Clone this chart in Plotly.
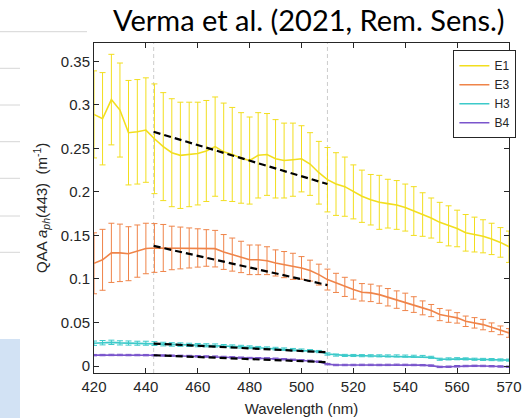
import plotly.graph_objects as go

# ---------------- data ----------------
wavelength = [420.0, 423.3, 426.7, 430.0, 433.3, 436.7, 440.0, 443.3, 446.7, 450.0,
              453.3, 456.7, 460.0, 463.3, 466.7, 470.0, 473.3, 476.7, 480.0, 483.3,
              486.7, 490.0, 493.3, 496.7, 500.0, 503.3, 506.7, 510.0, 513.3, 516.7,
              520.0, 523.3, 526.7, 530.0, 533.3, 536.7, 540.0, 543.3, 546.7, 550.0,
              553.3, 556.7, 560.0, 563.3, 566.7, 570.0, 573.3, 576.7, 580.0]

e1_mean = [0.289, 0.284, 0.306, 0.294, 0.268, 0.269, 0.271, 0.261, 0.252, 0.245,
           0.242, 0.243, 0.244, 0.247, 0.252, 0.246, 0.243, 0.239, 0.236, 0.242,
           0.243, 0.238, 0.236, 0.237, 0.238, 0.232, 0.222, 0.214, 0.209, 0.206,
           0.200, 0.195, 0.191, 0.188, 0.1865, 0.185, 0.182, 0.178, 0.174, 0.170,
           0.165, 0.161, 0.158, 0.153, 0.151, 0.149, 0.146, 0.142, 0.137]
e1_err = [0.050, 0.053, 0.052, 0.054, 0.060, 0.060, 0.060, 0.063, 0.062, 0.062,
          0.061, 0.060, 0.059, 0.058, 0.057, 0.056, 0.054, 0.052, 0.050, 0.049,
          0.047, 0.045, 0.043, 0.042, 0.038, 0.036, 0.036, 0.037, 0.036, 0.034,
          0.031, 0.030, 0.029, 0.031, 0.028, 0.028, 0.027, 0.028, 0.025, 0.023,
          0.023, 0.023, 0.021, 0.021, 0.020, 0.019, 0.018, 0.017, 0.018]

e3_mean = [0.118, 0.122, 0.130, 0.130, 0.129, 0.132, 0.135, 0.1356, 0.1356, 0.1356,
           0.1356, 0.1356, 0.1356, 0.1356, 0.1348, 0.131, 0.128, 0.1253, 0.122, 0.122,
           0.121, 0.1184, 0.1165, 0.1145, 0.1127, 0.1096, 0.105, 0.0993, 0.0955, 0.0909,
           0.0878, 0.0847, 0.084, 0.082, 0.079, 0.0763, 0.0737, 0.0706, 0.0668, 0.0637,
           0.0591, 0.0572, 0.0553, 0.0514, 0.0496, 0.0476, 0.0445, 0.041, 0.038]
e3_err = [0.035, 0.035, 0.034, 0.033, 0.031, 0.030, 0.029, 0.028, 0.027, 0.025,
          0.024, 0.023, 0.022, 0.021, 0.021, 0.020, 0.019, 0.018, 0.017, 0.017,
          0.016, 0.015, 0.015, 0.015, 0.013, 0.012, 0.012, 0.012, 0.011, 0.011,
          0.011, 0.010, 0.010, 0.010, 0.010, 0.010, 0.010, 0.009, 0.008, 0.007,
          0.007, 0.007, 0.006, 0.006, 0.006, 0.006, 0.005, 0.005, 0.005]

h3_mean = [0.0262, 0.0268, 0.0272, 0.0266, 0.0264, 0.0262, 0.0262, 0.0258, 0.0252, 0.0248,
           0.0246, 0.0243, 0.0240, 0.0238, 0.0236, 0.0230, 0.0226, 0.0222, 0.0216, 0.0210,
           0.0205, 0.0200, 0.0194, 0.0188, 0.0182, 0.0176, 0.0166, 0.0138, 0.0126, 0.0122,
           0.0121, 0.0119, 0.0118, 0.0117, 0.0116, 0.0116, 0.0114, 0.0112, 0.0110, 0.0100,
           0.0078, 0.0082, 0.0084, 0.0082, 0.0078, 0.0076, 0.0074, 0.0070, 0.0068]
h3_err = [0.0025, 0.0025, 0.0025, 0.0024, 0.0024, 0.0023, 0.0023, 0.0022, 0.0021, 0.0020,
          0.0020, 0.0019, 0.0019, 0.0018, 0.0018, 0.0017, 0.0017, 0.0016, 0.0016, 0.0015,
          0.0015, 0.0015, 0.0014, 0.0014, 0.0014, 0.0013, 0.0013, 0.0013, 0.0012, 0.0012,
          0.0012, 0.0012, 0.0012, 0.0012, 0.0012, 0.0012, 0.0012, 0.0012, 0.0012, 0.0012,
          0.0012, 0.0012, 0.0012, 0.0012, 0.0012, 0.0012, 0.0012, 0.0012, 0.0012]

b4_mean = [0.0125, 0.0126, 0.0127, 0.0127, 0.0126, 0.0126, 0.0125, 0.0124, 0.0121, 0.0119,
           0.0117, 0.0115, 0.0112, 0.0110, 0.0108, 0.0104, 0.0100, 0.0096, 0.0092, 0.0090,
           0.0088, 0.0084, 0.0078, 0.0072, 0.0066, 0.0060, 0.0050, 0.0022, 0.0012, 0.0012,
           0.0012, 0.0013, 0.0013, 0.0012, 0.0013, 0.0014, 0.0013, 0.0012, 0.0010, 0.0005,
           -0.0010, -0.0008, -0.0002, 0.0000, 0.0002, 0.0001, -0.0002, -0.0005, -0.0008]
b4_err = [0.0008] * 49

fit_wavelength = [443, 510]
e1_fit = [0.269, 0.209]
e3_fit = [0.138, 0.093]
h3_fit = [0.0258, 0.0158]
b4_fit = [0.0124, 0.0044]

band_edges = [443, 510]

x_tickvals = [420, 440, 460, 480, 500, 520, 540, 560, 580]
x_ticktext = ["420", "440", "460", "480", "500", "520", "540", "560", "570"]
y_tickvals = [0, 0.05, 0.1, 0.15, 0.2, 0.25, 0.3, 0.35]
y_ticktext = ["0", "0.05", "0.1", "0.15", "0.2", "0.25", "0.3", "0.35"]

series = [
    ("E1", e1_mean, e1_err, "#F2DE1E"),
    ("E3", e3_mean, e3_err, "#EF8449"),
    ("H3", h3_mean, h3_err, "#3CCACA"),
    ("B4", b4_mean, b4_err, "#7A55CC"),
]
fits = [e1_fit, e3_fit, h3_fit, b4_fit]

AX = "#262626"
FONT = "Liberation Sans, Arial, sans-serif"

fig = go.Figure()

for name, mean, err, col in series:
    fig.add_trace(go.Scatter(
        x=wavelength, y=mean, name=name, mode="lines",
        line=dict(color=col, width=1.6),
        error_y=dict(type="data", array=err, visible=True, color=col,
                     thickness=1, width=3),
    ))

for fit in fits:
    fig.add_trace(go.Scatter(
        x=fit_wavelength, y=fit, mode="lines", showlegend=False,
        line=dict(color="black", width=2.2, dash="7px,4px"),
    ))

shapes = []
for b in band_edges:
    shapes.append(dict(type="line", xref="x", yref="paper", x0=b, x1=b, y0=0, y1=1,
                       line=dict(color="#cccccc", width=1, dash="4px,3px"), layer="below"))

# slide background decorations (outside the axes)
W, H = 526, 418
ml, mr, mt, mb = 94, 17, 43, 45
pw, ph = W - ml - mr, H - mt - mb
def px(xp):
    return (xp - ml) / pw
def py(yp):
    return (H - mb - yp) / ph

shapes.append(dict(type="line", xref="paper", yref="paper", x0=px(0), x1=px(87),
                   y0=py(31.7), y1=py(31.7), line=dict(color="#d6d6d6", width=1)))
for yy in [68.3, 105, 141.7, 178.3, 216, 252.3]:
    shapes.append(dict(type="line", xref="paper", yref="paper", x0=px(0), x1=px(20),
                       y0=py(yy), y1=py(yy), line=dict(color="#d6d6d6", width=1)))
shapes.append(dict(type="rect", xref="paper", yref="paper", x0=px(0), x1=px(20),
                   y0=py(418), y1=py(339), line=dict(width=0), fillcolor="#d2e2f4"))

fig.update_layout(
    width=W, height=H,
    margin=dict(l=ml, r=mr, t=mt, b=mb, autoexpand=False),
    paper_bgcolor="white", plot_bgcolor="white",
    font=dict(family=FONT, size=15, color=AX),
    title=dict(text="Verma et al. (2021, Rem. Sens.)", xref="container", yref="container",
               x=0.587, y=0.95, xanchor="center", yanchor="middle",
               font=dict(family="Lato, Open Sans, sans-serif", size=29, color="black")),
    showlegend=True,
    legend=dict(x=0.866, y=0.978, xanchor="left", yanchor="top",
                bgcolor="white", bordercolor=AX, borderwidth=1,
                font=dict(family=FONT, size=12, color=AX),
                itemwidth=30, tracegroupgap=0),
    shapes=shapes,
    annotations=[dict(text="QAA <i>a</i><sub><i>ph</i></sub>(443)  (m<sup>-1</sup>)",
                      xref="paper", yref="paper", x=px(41), y=0.5,
                      xanchor="center", yanchor="middle", textangle=-90,
                      showarrow=False, font=dict(family=FONT, size=15, color=AX))],
    xaxis=dict(range=[420, 580], tickvals=x_tickvals, ticktext=x_ticktext,
               ticks="inside", ticklen=5, tickcolor=AX, showline=True, linecolor=AX,
               linewidth=1, mirror="allticks", showgrid=False, zeroline=False,
               automargin=False,
               title=dict(text="Wavelength (nm)", standoff=9, font=dict(size=15))),
    yaxis=dict(range=[-0.008, 0.371], tickvals=y_tickvals, ticktext=y_ticktext,
               ticks="inside", ticklen=5, tickcolor=AX, showline=True, linecolor=AX,
               linewidth=1, mirror="allticks", showgrid=False, zeroline=False,
               automargin=False),
)

fig.write_html("out.html")
